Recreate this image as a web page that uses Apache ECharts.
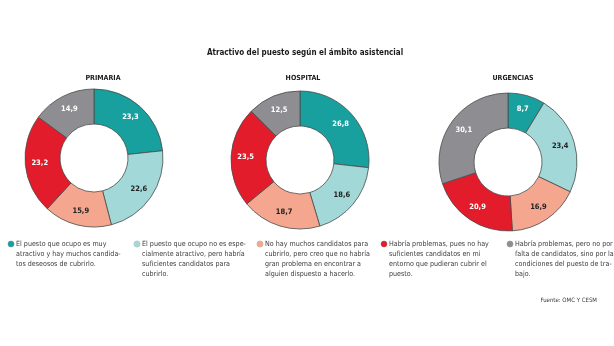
<!DOCTYPE html>
<html>
<head>
<meta charset="utf-8">
<script src="https://cdn.jsdelivr.net/npm/echarts@6/dist/echarts.min.js"></script>
<style>
  html, body { margin: 0; padding: 0; background: #fff; }
  #chart { width: 614px; height: 346px; }
</style>
</head>
<body>
<div id="chart"></div>
<script>
// categorias (texto de la leyenda, con los cortes de linea del original)
const categories = [
  "El puesto que ocupo es muy\natractivo y hay muchos candida-\ntos deseosos de cubrirlo.",
  "El puesto que ocupo no es espe-\ncialmente atractivo, pero habría\nsuficientes candidatos para\ncubrirlo.",
  "No hay muchos candidatos para\ncubrirlo, pero creo que no habría\ngran problema en encontrar a\nalguien dispuesto a hacerlo.",
  "Habría problemas, pues no hay\nsuficientes candidatos en mi\nentorno que pudieran cubrir el\npuesto.",
  "Habría problemas, pero no por\nfalta de candidatos, sino por las\ncondiciones del puesto de tra-\nbajo."
];
const panels = ["PRIMARIA", "HOSPITAL", "URGENCIAS"];
const primaria = [23.3, 22.6, 15.9, 23.2, 14.9];
const hospital = [26.8, 18.6, 18.7, 23.5, 12.5];
const urgencias = [8.7, 23.4, 16.9, 20.9, 30.1];

const colors = ["#17a09e", "#a2d9d8", "#f4a68f", "#e31c2b", "#8e8e92"];
const labelColors = ["#fff", "#222", "#222", "#fff", "#fff"];
// fuente condensada (DejaVu Sans Condensed via font-stretch)
const FONT = "'DejaVu Sans', sans-serif";

let myChart = echarts.init(document.getElementById("chart"));

function pie(values, center) {
  return {
    type: "pie",
    center: center,
    radius: [34, 69],
    startAngle: 90,
    clockwise: true,
    avoidLabelOverlap: false,
    itemStyle: { borderColor: "#4a4a4a", borderWidth: 0.8 },
    label: {
      position: "inside",
      fontFamily: FONT,
      fontWeight: "bold condensed",
      fontSize: 7.5,
      formatter: (p) => p.value.toFixed(1).replace(".", ",")
    },
    labelLine: { show: false },
    emphasis: { disabled: true },
    data: values.map((v, i) => ({
      name: categories[i],
      value: v,
      itemStyle: { color: colors[i] },
      label: { color: labelColors[i] }
    }))
  };
}

const legendLeft = [2, 128, 251, 375, 501];
let legends = categories.map((c, i) => ({
  data: [c],
  left: legendLeft[i],
  top: 239,
  padding: 0,
  itemWidth: 0,
  itemHeight: 0,
  selectedMode: false,
  formatter: (name) => name.split("\n")
    .map((l, j) => (j === 0 ? "{d|}{g|}" : "{s|}") + "{t|" + l + "}")
    .join("\n"),
  textStyle: {
    fontSize: 7,
    lineHeight: 10,
    rich: {
      d: { width: 6, height: 6, fontSize: 7, lineHeight: 10, borderRadius: 3, backgroundColor: colors[i], borderColor: "#bbb", borderWidth: 0.5 },
      g: { width: 2, fontSize: 7, lineHeight: 10 },
      s: { width: 8, fontSize: 7, lineHeight: 10 },
      t: { fontFamily: FONT, fontWeight: "normal condensed", fontSize: 7.1, color: "#3a3a3a", lineHeight: 10 }
    }
  }
}));

let option = {
  backgroundColor: "#fff",
  animation: false,
  title: [
    { text: "Atractivo del puesto según el ámbito asistencial", left: 300, top: 44, textAlign: "center",
      textStyle: { fontFamily: FONT, fontSize: 8, fontWeight: "bold condensed", color: "#1a1a1a" } },
    { text: panels[0], left: 98, top: 70, textAlign: "center",
      textStyle: { fontFamily: FONT, fontSize: 7, fontWeight: "bold condensed", color: "#1a1a1a" } },
    { text: panels[1], left: 298, top: 70, textAlign: "center",
      textStyle: { fontFamily: FONT, fontSize: 7, fontWeight: "bold condensed", color: "#1a1a1a" } },
    { text: panels[2], left: 508, top: 70, textAlign: "center",
      textStyle: { fontFamily: FONT, fontSize: 7, fontWeight: "bold condensed", color: "#1a1a1a" } },
    { text: "Fuente: OMC Y CESM", right: 12, top: 292,
      textStyle: { fontFamily: FONT, fontSize: 6, fontWeight: "normal condensed", color: "#3a3a3a" } }
  ],
  legend: legends,
  series: [
    pie(primaria, [94, 158]),
    pie(hospital, [300, 160]),
    pie(urgencias, [508, 162])
  ]
};
myChart.setOption(option);
</script>
</body>
</html>
